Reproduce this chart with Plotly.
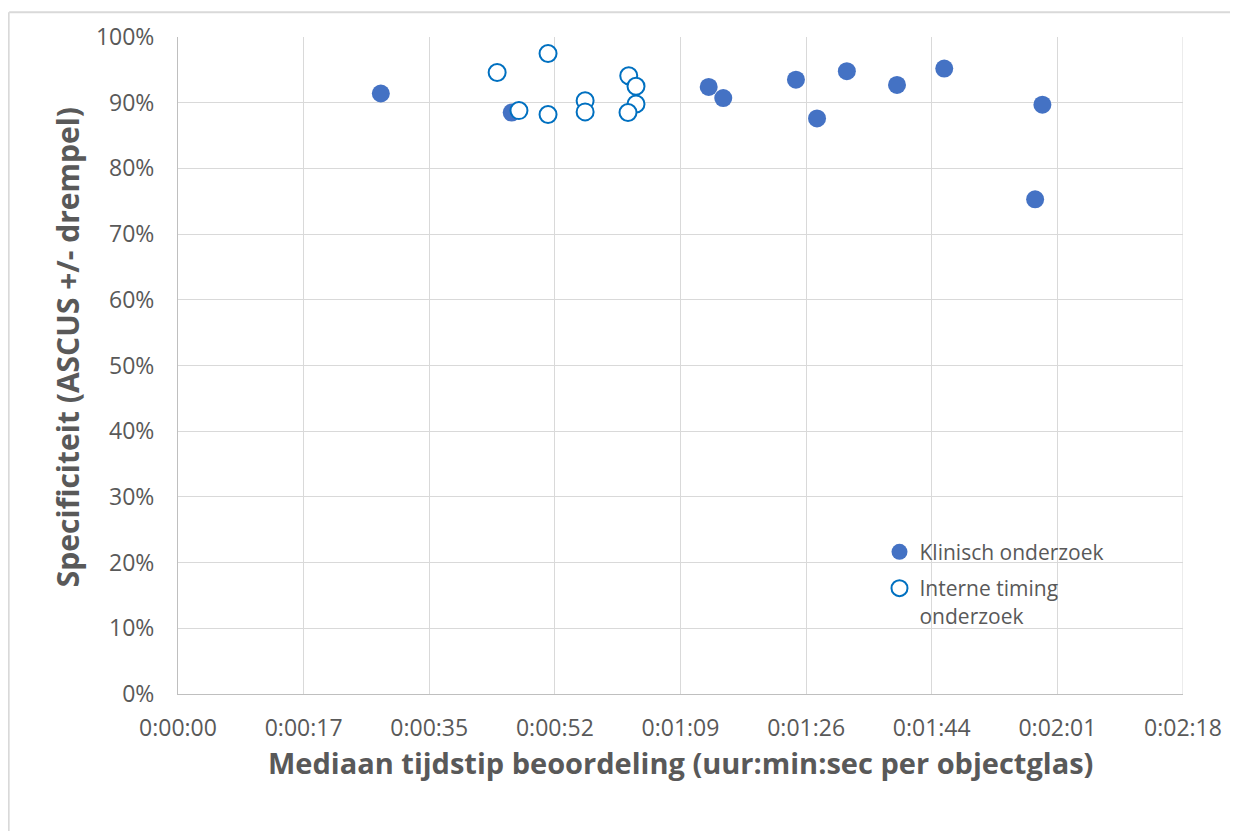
import plotly.graph_objects as go

# Median assessment time (seconds) and specificity (fraction)
klinisch_x = [27.9, 45.9, 73.0, 75.0, 85.0, 87.9, 92.0, 98.9, 105.4, 118.9, 117.9]
klinisch_y = [0.914, 0.885, 0.924, 0.907, 0.935, 0.876, 0.948, 0.927, 0.952, 0.897, 0.753]

intern_x = [43.9, 50.9, 46.9, 50.9, 56.0, 56.0, 62.0, 63.0, 63.0, 61.9]
intern_y = [0.946, 0.975, 0.888, 0.882, 0.903, 0.886, 0.941, 0.925, 0.898, 0.885]

x_tick_vals = [0, 17.28, 34.56, 51.84, 69.12, 86.4, 103.68, 120.96, 138.24]
x_tick_text = ["0:00:00", "0:00:17", "0:00:35", "0:00:52", "0:01:09",
               "0:01:26", "0:01:44", "0:02:01", "0:02:18"]
y_tick_vals = [0, 0.1, 0.2, 0.3, 0.4, 0.5, 0.6, 0.7, 0.8, 0.9, 1.0]

x_title = "Mediaan tijdstip beoordeling (uur:min:sec per objectglas)"
y_title = "Specificiteit (ASCUS +/- drempel)"
name_k = "Klinisch onderzoek"
name_i = "Interne timing<br>onderzoek"

FONT = "Open Sans"
TXT = "#595959"
GRID = "#D9D9D9"

fig = go.Figure()
fig.add_trace(go.Scatter(
    x=klinisch_x, y=klinisch_y, mode="markers", name=name_k, legendgroup="k",
    marker=dict(size=18, color="#4472C4", line=dict(width=0)),
))
fig.add_trace(go.Scatter(
    x=intern_x, y=intern_y, mode="markers", name=name_i, legendgroup="i",
    marker=dict(size=17, color="white", line=dict(width=2, color="#0070C0")),
))

fig.update_layout(
    width=1238, height=831,
    margin=dict(l=170, r=63, t=25, b=145),
    paper_bgcolor="white", plot_bgcolor="white",
    font=dict(family=FONT, color=TXT, size=23),
    showlegend=True,
    legend=dict(
        x=0.698, y=0.247, xanchor="left", yanchor="top",
        bgcolor="rgba(0,0,0,0)", borderwidth=0,
        font=dict(family=FONT, size=21, color=TXT),
        itemsizing="trace", traceorder="grouped", tracegroupgap=6,
        valign="top",
    ),
    xaxis=dict(
        range=[0, 138.24], tickvals=x_tick_vals, ticktext=x_tick_text,
        showgrid=True, gridcolor=GRID, gridwidth=1,
        showline=True, linecolor="#BFBFBF", linewidth=1, mirror=False,
        zeroline=False, ticks="", ticklabelstandoff=13,
        tickfont=dict(size=23, color=TXT, family=FONT),
    ),
    yaxis=dict(
        range=[0, 1.0], tickvals=y_tick_vals, tickformat=".0%",
        showgrid=True, gridcolor=GRID, gridwidth=1,
        showline=True, linecolor="#BFBFBF", linewidth=1,
        zeroline=False, ticks="", ticklabelstandoff=18,
        tickfont=dict(size=23, color=TXT, family=FONT),
    ),
    annotations=[
        dict(text=f"<b>{x_title}</b>", xref="paper", yref="paper",
             x=0.5, y=-0.104, xanchor="center", yanchor="middle",
             showarrow=False, font=dict(size=29, color=TXT, family=FONT)),
        dict(text=f"<b>{y_title}</b>", xref="paper", yref="paper",
             x=-0.1104, y=0.528, xanchor="center", yanchor="middle",
             textangle=-90, showarrow=False,
             font=dict(size=30, color=TXT, family=FONT)),
    ],
    shapes=[
        # legend background box (covers gridlines only)
        dict(type="rect", xref="paper", yref="paper", x0=0.7313, x1=0.9662,
             y0=0.130, y1=0.233, fillcolor="white", line=dict(width=0),
             layer="between"),
        dict(type="line", xref="x", yref="paper", x0=138.24, x1=138.24, y0=0, y1=1,
             line=dict(color=GRID, width=1), layer="below"),
        dict(type="line", xref="paper", yref="paper", x0=-0.168, x1=1.1, y0=1.0378, y1=1.0378,
             line=dict(color="#D9D9D9", width=2)),
        dict(type="line", xref="paper", yref="paper", x0=-0.1685, x1=-0.1685, y0=-0.23, y1=1.0378,
             line=dict(color="#D9D9D9", width=2)),
    ],
)

fig.write_html("out.html")
